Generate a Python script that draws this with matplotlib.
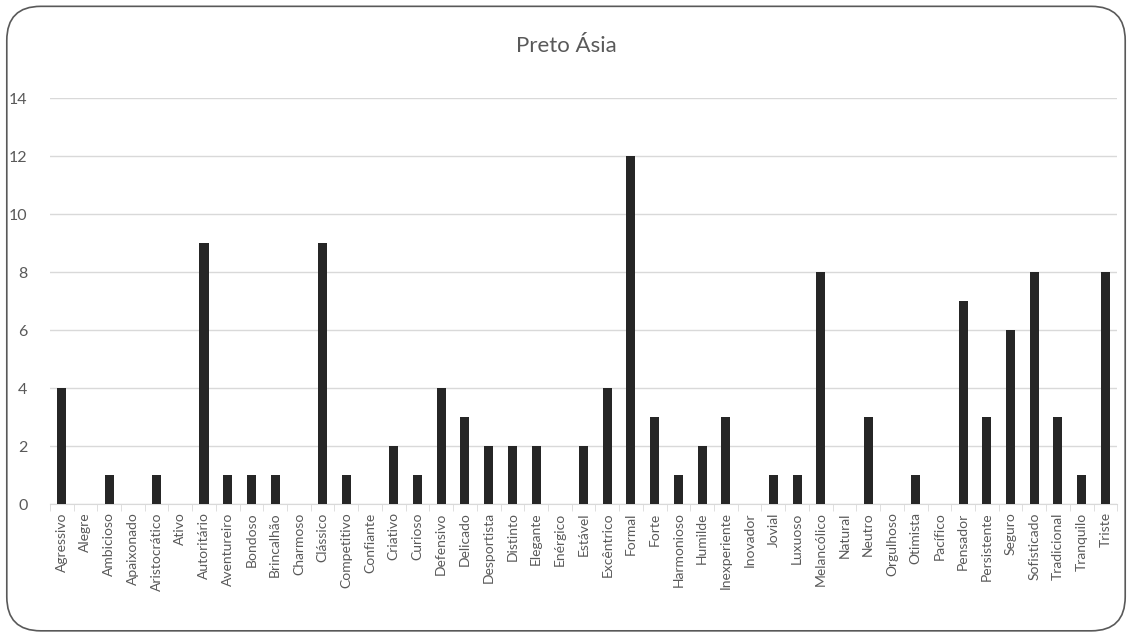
import matplotlib.pyplot as plt
import numpy as np
from matplotlib.patches import FancyBboxPatch

plt.rcParams['font.family'] = ['Lato', 'DejaVu Sans']

categorias = ["Agressivo", "Alegre", "Ambicioso", "Apaixonado", "Aristocrático", "Ativo",
              "Autoritário", "Aventureiro", "Bondoso", "Brincalhão", "Charmoso", "Clássico",
              "Competitivo", "Confiante", "Criativo", "Curioso", "Defensivo", "Delicado",
              "Desportista", "Distinto", "Elegante", "Enérgico", "Estável", "Excêntrico",
              "Formal", "Forte", "Harmonioso", "Humilde", "Inexperiente", "Inovador",
              "Jovial", "Luxuoso", "Melancólico", "Natural", "Neutro", "Orgulhoso",
              "Otimista", "Pacífico", "Pensador", "Persistente", "Seguro", "Sofisticado",
              "Tradicional", "Tranquilo", "Triste"]
valores = [4, 0, 1, 0, 1, 0, 9, 1, 1, 1, 0, 9, 1, 0, 2, 1, 4, 3, 2, 2, 2, 0, 2, 4,
           12, 3, 1, 2, 3, 0, 1, 1, 8, 0, 3, 0, 1, 0, 7, 3, 6, 8, 3, 1, 8]
yticks = [0, 2, 4, 6, 8, 10, 12, 14]

cinza = "#595959"
fig = plt.figure(figsize=(11.32, 6.34), dpi=100)
ax = fig.add_axes([0.044, 0.205, 0.943, 0.64])

x = np.arange(len(categorias))
ax.bar(x, valores, width=0.38, color="#262626", zorder=3)

ax.set_xlim(-0.5, len(categorias) - 0.5)
ax.set_ylim(0, 14)
ax.set_yticks(yticks)
ax.set_xticks(x)
ax.set_xticklabels(categorias, rotation=90, fontsize=10, color=cinza)
ax.set_xticks(np.arange(-0.5, len(categorias)), minor=True)
ax.tick_params(axis='x', which='major', length=0, pad=6)
ax.tick_params(axis='x', which='minor', length=5, color="#d9d9d9")
ax.tick_params(axis='y', length=0, labelsize=11.5, labelcolor=cinza, pad=16)
ax.grid(axis='y', color="#d9d9d9", linewidth=1, zorder=0)
for s in ['top', 'right', 'left']:
    ax.spines[s].set_visible(False)
ax.spines['bottom'].set_color("#d9d9d9")

fig.text(0.5, 0.928, "Preto Ásia", ha='center', va='center', fontsize=16, color=cinza)

borda = FancyBboxPatch((0.006, 0.005), 0.988, 0.985, boxstyle="round,pad=0,rounding_size=0.03",
                       transform=fig.transFigure, fill=False, edgecolor="#595959", linewidth=1.2,
                       mutation_aspect=1132 / 634)
fig.patches.append(borda)

fig.savefig("out.png", dpi=100)
